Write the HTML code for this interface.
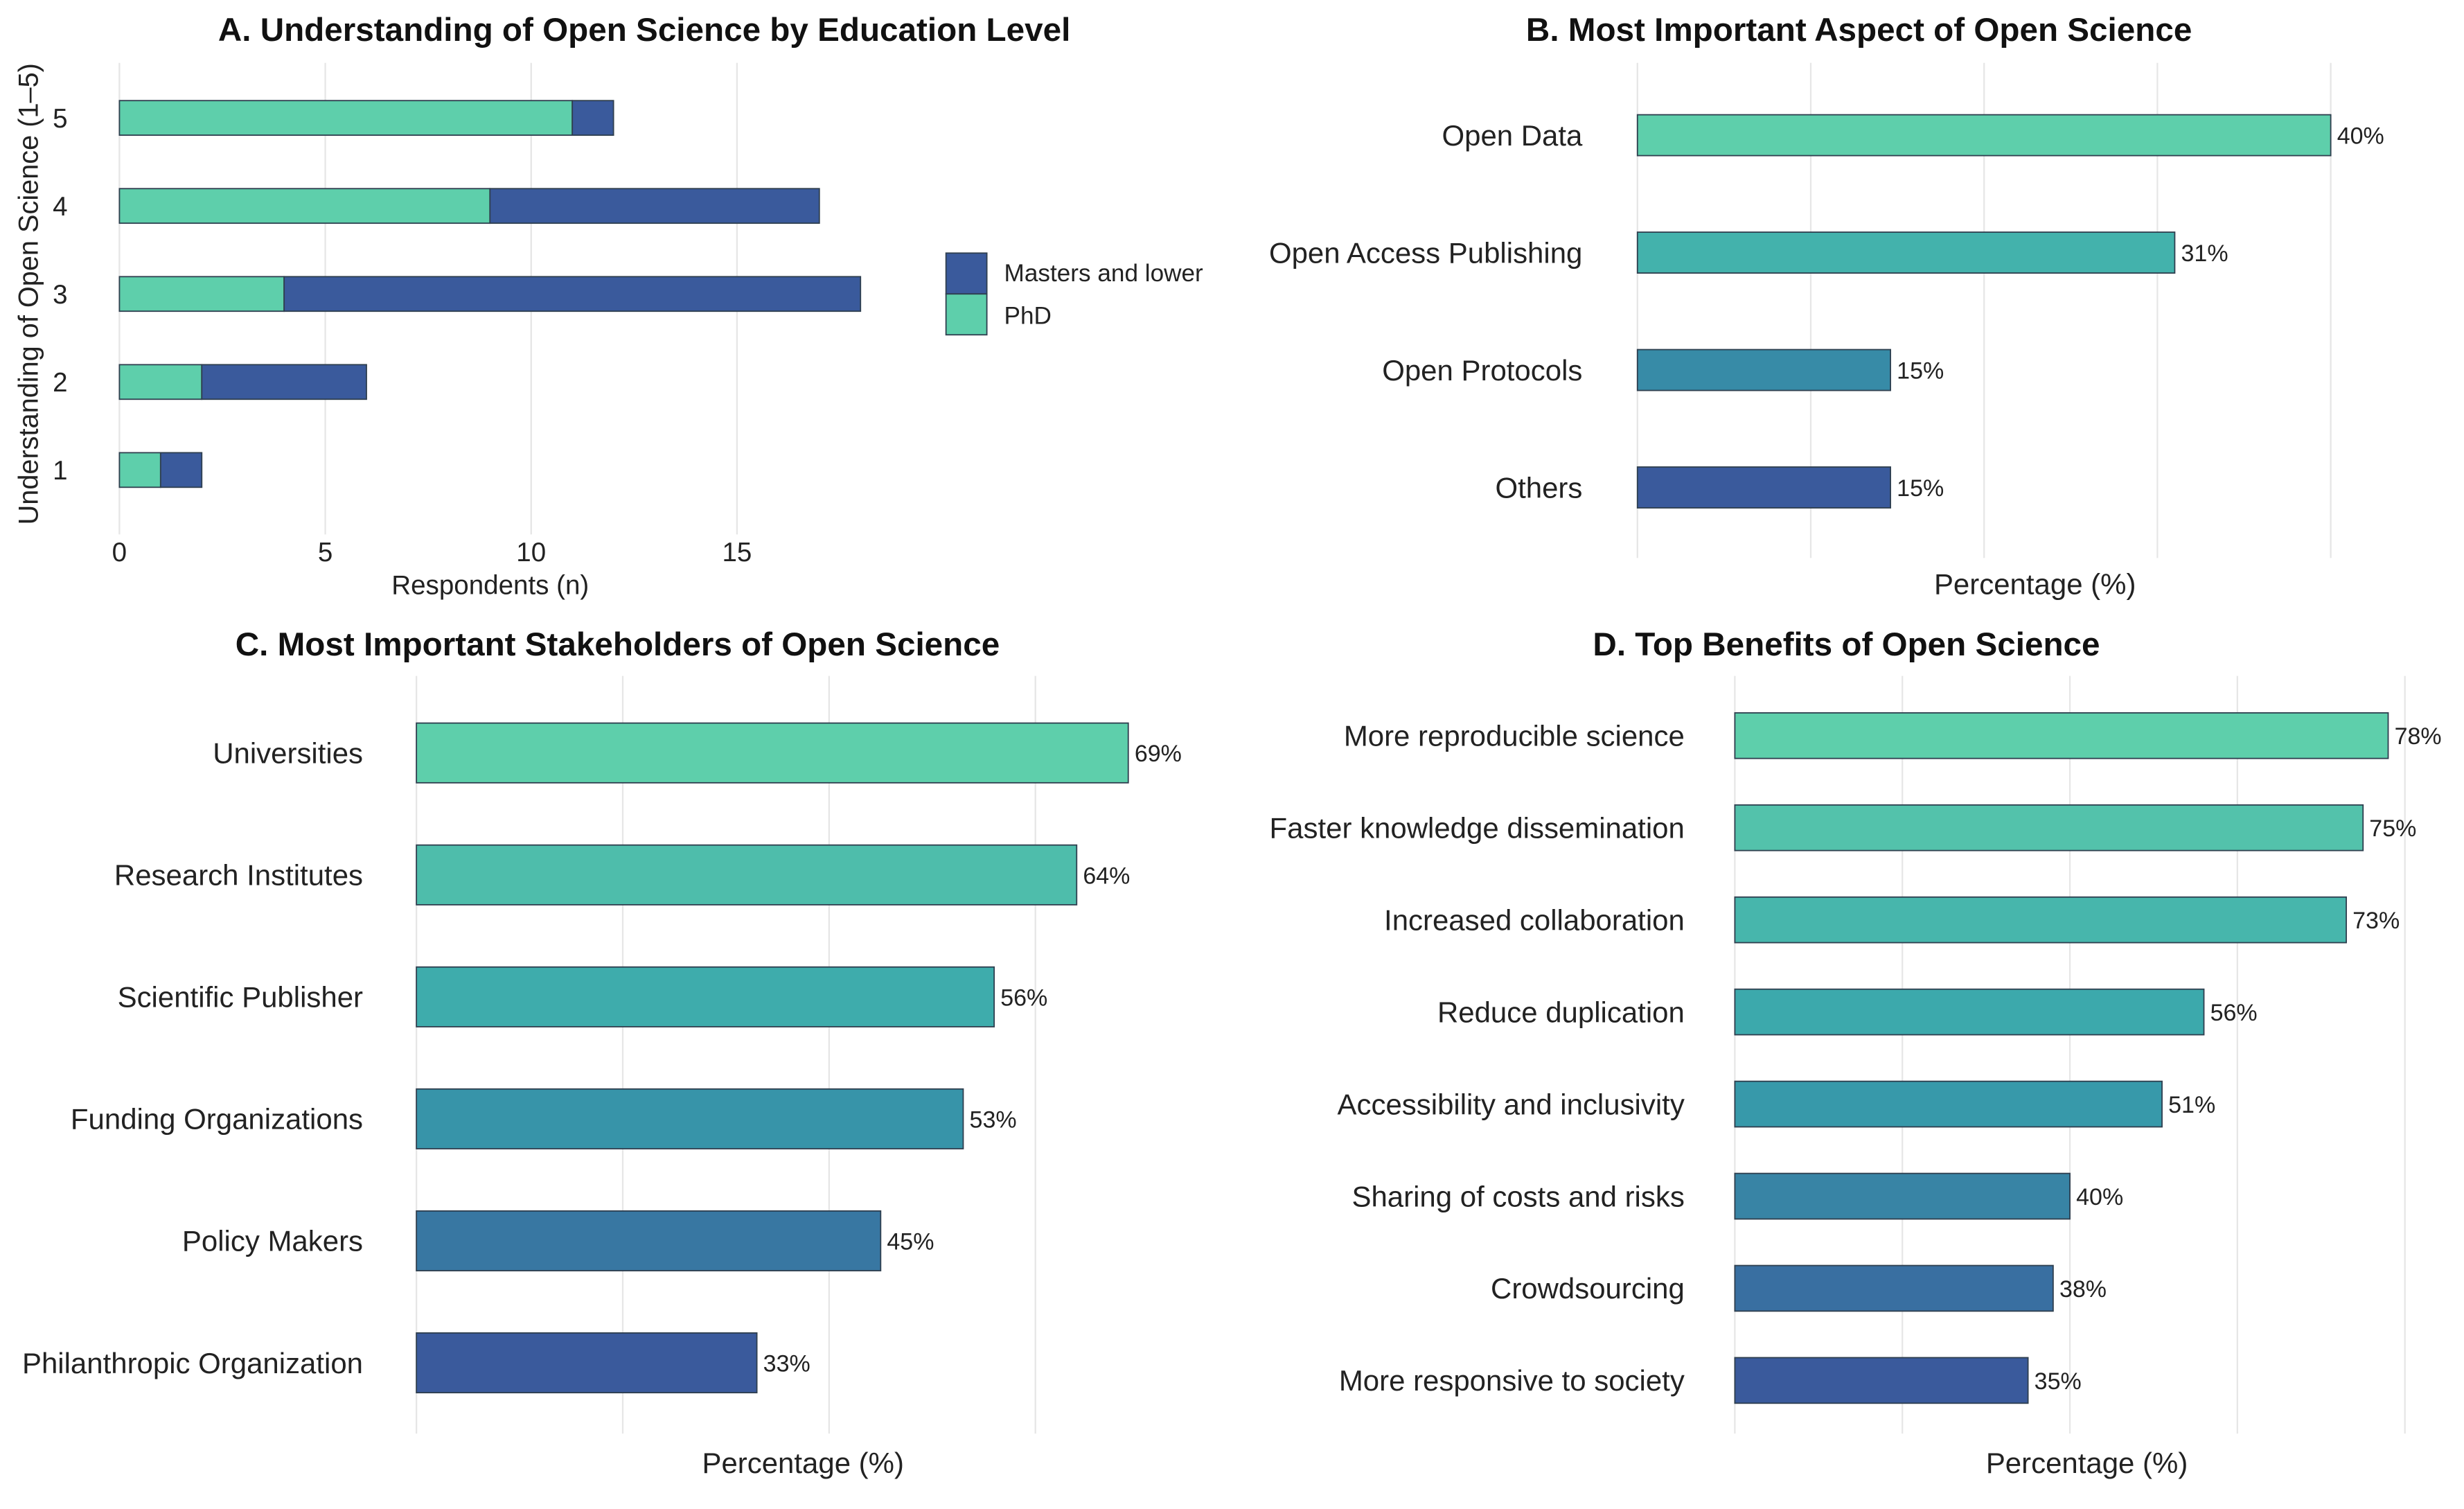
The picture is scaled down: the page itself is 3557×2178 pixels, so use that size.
<!DOCTYPE html>
<html><head><meta charset="utf-8"><style>
html,body{margin:0;padding:0;background:#fff;}
svg{display:block;font-family:"Liberation Sans",Arial,sans-serif;}
</style></head><body>
<svg id="fig" width="3557" height="2178" viewBox="0 0 1568 960" preserveAspectRatio="none" xmlns="http://www.w3.org/2000/svg"></svg>
<script>
// Panel A data
const aCats = [5,4,3,2,1];
const aPhd = [11,9,4,2,1];
const aMasters = [1,8,14,4,1];
const aTicks = [0,5,10,15];
// Panel B data
const bCats = ["Open Data","Open Access Publishing","Open Protocols","Others"];
const bVals = [40,31,14.6,14.6];
const bLabels = ["40%","31%","15%","15%"];
// Panel C data
const cCats = ["Universities","Research Institutes","Scientific Publisher","Funding Organizations","Policy Makers","Philanthropic Organization"];
const cVals = [69,64,56,53,45,33];
const cLabels = ["69%","64%","56%","53%","45%","33%"];
// Panel D data
const dCats = ["More reproducible science","Faster knowledge dissemination","Increased collaboration","Reduce duplication","Accessibility and inclusivity","Sharing of costs and risks","Crowdsourcing","More responsive to society"];
const dVals = [78,75,73,56,51,40,38,35];
const dLabels = ["78%","75%","73%","56%","51%","40%","38%","35%"];

const NS="http://www.w3.org/2000/svg";
const svg=document.getElementById('fig');
function mk(tag,attrs,parent){const e=document.createElementNS(NS,tag);for(const k in attrs)e.setAttribute(k,attrs[k]);(parent||svg).appendChild(e);return e;}
function txt(s,attrs,parent){const e=mk('text',attrs,parent);e.textContent=s;return e;}
const GRID="#e6e6e6", STROKE="#2f3f4f";
const PHD="#5ecfab", MAS="#3a5a9c";
function lerpColor(t){
  const a=[0x5e,0xcf,0xab],m=[0x36,0xa3,0xac],b=[0x3a,0x5a,0x9c];
  let p,q,u; if(t<0.5){p=a;q=m;u=t/0.5;}else{p=m;q=b;u=(t-0.5)/0.5;}
  return 'rgb('+p.map((v,i)=>Math.round(v+(q[i]-v)*u)).join(',')+')';
}

// ---------- Panel A ----------
const gA=mk('g',{});


const ax=v=>76+v*26.2;
const ay=c=>75+(5-c)*56;
const t=txt('A. Understanding of Open Science by Education Level',{x:410,y:26,'text-anchor':'middle','font-size':21,'font-weight':'bold',fill:'#111'},gA);

aTicks.forEach(v=>{
  const l=mk('line',{x1:ax(v),x2:ax(v),y1:40,y2:340,stroke:GRID,'stroke-width':1},gA);
  
  const tt=txt(String(v),{x:ax(v),y:357,'text-anchor':'middle','font-size':17,fill:'#222'},gA);
  
});
aCats.forEach((c,i)=>{
  const y=ay(c);
  const r1=mk('rect',{x:ax(0),y:y-11,width:ax(aPhd[i])-ax(0),height:22,fill:PHD,stroke:STROKE,'stroke-width':0.8},gA);
  
  const r2=mk('rect',{x:ax(aPhd[i]),y:y-11,width:ax(aPhd[i]+aMasters[i])-ax(aPhd[i]),height:22,fill:MAS,stroke:STROKE,'stroke-width':0.8},gA);
  
  const lb=txt(String(c),{x:43,y:y+6,'text-anchor':'end','font-size':17,fill:'#222'},gA);
  
});
const xt=txt('Respondents (n)',{x:312,y:378,'text-anchor':'middle','font-size':17,fill:'#222'},gA);

const yt=txt('Understanding of Open Science (1\u20135)',{x:0,y:0,transform:'translate(24,187) rotate(-90)','text-anchor':'middle','font-size':17.5,fill:'#222'},gA);

const le=mk('g',{},gA);

const s1=mk('rect',{x:602,y:161,width:26,height:26,fill:MAS,stroke:STROKE,'stroke-width':0.8},le);

const l1=txt('Masters and lower',{x:639,y:179,'font-size':15.5,fill:'#222'},le);

const s2=mk('rect',{x:602,y:187,width:26,height:26,fill:PHD,stroke:STROKE,'stroke-width':0.8},le);

const l2=txt('PhD',{x:639,y:206,'font-size':15.5,fill:'#222'},le);


// ---------- generic horizontal bar panel ----------
function panel(name,title,titleX,titleY,cats,vals,labels,x0,pxPer,gridStep,gridN,gTop,gBot,rowY0,rowStep,barH,labelX,xTitleX,xTitleY){
  const g=mk('g',{});
  
  
  const sx=v=>x0+v*pxPer;
  const tt=txt(title,{x:titleX,y:titleY,'text-anchor':'middle','font-size':21,'font-weight':'bold',fill:'#111'},g);
  
  for(let k=0;k<=gridN;k++){
    const l=mk('line',{x1:sx(k*gridStep),x2:sx(k*gridStep),y1:gTop,y2:gBot,stroke:GRID,'stroke-width':1},g);
    
  }
  const n=cats.length;
  cats.forEach((c,i)=>{
    const y=rowY0+i*rowStep;
    const r=mk('rect',{x:sx(0),y:y-barH/2,width:sx(vals[i])-sx(0),height:barH,fill:lerpColor(n>1?i/(n-1):0),stroke:STROKE,'stroke-width':0.8},g);
    
    
    const lb=txt(c,{x:labelX,y:y+6.5,'text-anchor':'end','font-size':18.5,fill:'#222'},g);
    
    const vl=txt(labels[i],{x:sx(vals[i])+4,y:y+5.5,'font-size':15,fill:'#222'},g);
    
  });
  const xt=txt('Percentage (%)',{x:xTitleX,y:xTitleY,'text-anchor':'middle','font-size':18.5,fill:'#222'},g);
  
}
panel('panel-b','B. Most Important Aspect of Open Science',1183,26,bCats,bVals,bLabels,1042,11.03,10,4,40,355,86,74.7,26,1007,1295,378);
panel('panel-c','C. Most Important Stakeholders of Open Science',393,417,cCats,cVals,cLabels,265,6.565,20,3,430,912,479,77.6,38,231,511,937);
panel('panel-d','D. Top Benefits of Open Science',1175,417,dCats,dVals,dLabels,1104,5.33,20,4,430,912,468,58.6,29,1072,1328,937);
</script>
</body></html>
